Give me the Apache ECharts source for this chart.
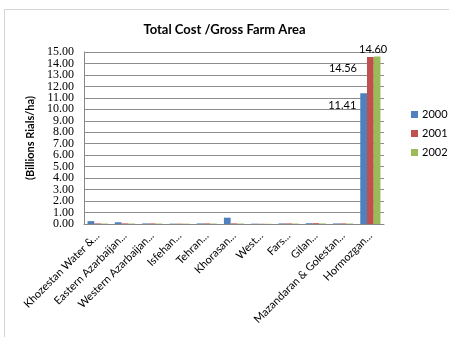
<!DOCTYPE html>
<html><head><meta charset="utf-8">
<script src="https://cdn.jsdelivr.net/npm/echarts@6/dist/echarts.min.js"></script>
<style>html,body{margin:0;padding:0;background:#fff}#c{width:449px;height:337px}</style>
</head><body><div id="c"></div>
<script>
const categories = ["Khozestan Water &...", "Eastern Azarbaijan...", "Western Azarbaijan...", "Isfehan...", "Tehran...", "Khorasan...", "West...", "Fars...", "Gilan...", "Mazandaran & Golestan...", "Hormozgan..."];
const s2000 = [0.25, 0.15, 0.05, 0.03, 0.05, 0.55, 0.03, 0.05, 0.07, 0.05, 11.41];
const s2001 = [0.05, 0.05, 0.05, 0.03, 0.05, 0.05, 0.02, 0.05, 0.07, 0.05, 14.56];
const s2002 = [0.04, 0.04, 0.04, 0.03, 0.04, 0.04, 0.02, 0.04, 0.05, 0.04, 14.60];
const seriesNames = ["2000", "2001", "2002"];
const colors = ["#4F81BD", "#C0504D", "#9BBB59"];
const yMin = 0, yMax = 15, yStep = 1;

const chart = echarts.init(document.getElementById('c'), null, {renderer: 'canvas'});
const last = categories.length - 1;
function mkData(arr, labelCfg) {
  return arr.map((v, i) => i === last ? {value: v, label: Object.assign({show: true}, labelCfg)} : v);
}
const lblBase = {color: '#000', fontFamily: 'Lato', fontSize: 11, formatter: p => p.value.toFixed(2)};
const yLabelBase = {fontFamily: 'Liberation Serif', fontSize: 12, color: '#000', margin: 10,
  showMinLabel: true, showMaxLabel: true};
chart.setOption({
  animation: false,
  graphic: [{type: 'rect', shape: {x: 4.5, y: 9.5, width: 460, height: 340}, style: {fill: 'none', stroke: '#d4d4d4', lineWidth: 1}}],
  title: {text: 'Total Cost /Gross Farm Area', left: 'center', top: 18,
    textStyle: {fontFamily: 'Lato', fontWeight: 'bold', fontSize: 13, color: '#000'}},
  legend: {orient: 'vertical', left: 406, top: 104, itemWidth: 7, itemHeight: 7, itemGap: 8,
    icon: 'rect', data: seriesNames,
    textStyle: {fontFamily: 'Lato', fontSize: 11, color: '#000', padding: [0,0,0,-1]}},
  grid: {left: 84, right: 65, top: 52, bottom: 113, containLabel: false},
  xAxis: {type: 'category', data: categories,
    axisLine: {lineStyle: {color: '#888'}}, axisTick: {show: false},
    axisLabel: {rotate: 45, interval: 0, fontFamily: 'Lato', fontSize: 11, color: '#000', margin: 10}},
  yAxis: [
    {type: 'value', min: yMin, max: yMax, interval: yStep, position: 'left',
      name: '(Billions Rials/ha)', nameLocation: 'middle', nameGap: 46,
      nameTextStyle: {fontFamily: 'Lato', fontWeight: 'bold', fontSize: 11, color: '#000'},
      axisLine: {show: true, lineStyle: {color: '#888'}}, axisTick: {show: false},
      splitLine: {lineStyle: {color: '#8c8c8c'}},
      axisLabel: Object.assign({formatter: v => (Math.round(v) % 2 === 0 ? v.toFixed(2) : '')}, yLabelBase)},
    {type: 'value', min: yMin, max: yMax, interval: yStep, position: 'left', offset: 0,
      axisLine: {show: false}, axisTick: {show: false}, splitLine: {show: false},
      axisLabel: Object.assign({formatter: v => (Math.round(v) % 2 === 1 ? v.toFixed(2) : '')}, yLabelBase)}
  ],
  series: [
    {name: seriesNames[0], type: 'bar', barGap: '0%', barCategoryGap: '26%', itemStyle: {color: colors[0]},
      data: mkData(s2000, Object.assign({position: [-4, 12], align: 'right', verticalAlign: 'middle'}, lblBase))},
    {name: seriesNames[1], type: 'bar', itemStyle: {color: colors[1]},
      data: mkData(s2001, Object.assign({position: [-10, 11], align: 'right', verticalAlign: 'middle'}, lblBase))},
    {name: seriesNames[2], type: 'bar', itemStyle: {color: colors[2]},
      data: mkData(s2002, Object.assign({position: 'top', distance: 2, offset: [-4, 0]}, lblBase))}
  ]
});
</script></body></html>
